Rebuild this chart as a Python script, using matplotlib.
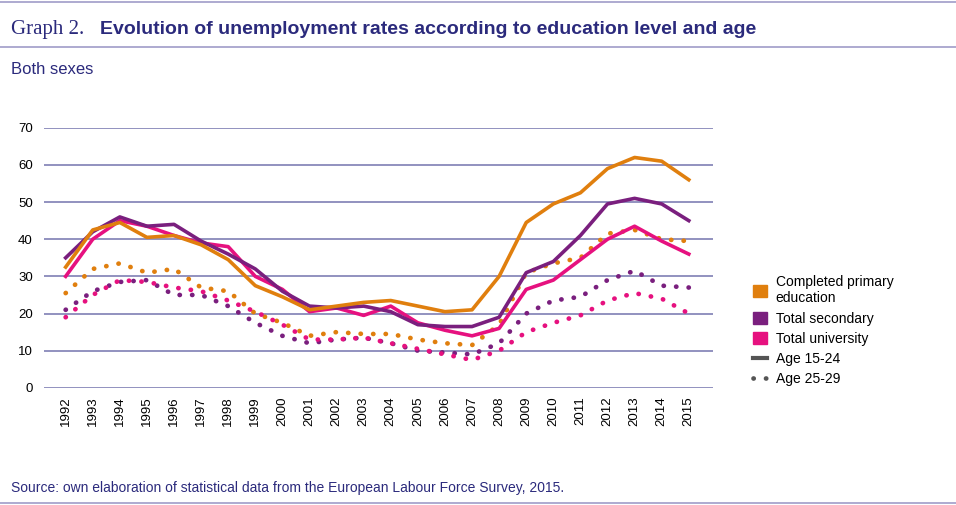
import matplotlib.pyplot as plt
from matplotlib.lines import Line2D
from matplotlib.patches import Patch

years = list(range(1992, 2016))
primary_1524 = [32.5, 42.5, 44.5, 40.5, 41, 38.5, 34.5, 27.5, 24.5, 21, 22, 23, 23.5, 22, 20.5, 21, 30, 44.5, 49.5, 52.5, 59, 62, 61, 56]
secondary_1524 = [35, 42, 46, 43.5, 44, 39.5, 36, 32, 26, 22, 21.5, 22, 20.5, 17, 16.5, 16.5, 19, 31, 34, 41, 49.5, 51, 49.5, 45]
university_1524 = [30, 40, 45, 43.5, 41, 39, 38, 30, 26.5, 20.5, 21.5, 19.5, 22, 17.5, 15.5, 14, 16, 26.5, 29, 34.5, 40, 43.5, 39.5, 36]
primary_2529 = [25.5, 32, 33.5, 31, 32, 27, 26, 20, 17.5, 14, 15, 14.5, 14.5, 13, 12, 11.5, 17, 31, 33.5, 35, 41.5, 42.5, 40, 39.5]
secondary_2529 = [21, 26, 28.5, 29, 25, 25, 22, 17.5, 14, 12, 13, 13.5, 12, 10, 9.5, 9, 12, 20, 23.5, 24.5, 29, 31.5, 27.5, 27]
university_2529 = [19, 25, 29, 28.5, 27, 26, 23.5, 20.5, 17, 13, 13, 13.5, 12, 10.5, 9, 7.5, 10, 15, 17.5, 19.5, 23.5, 25.5, 24, 20]

ORANGE = '#E07F0E'
PURPLE = '#7A1F7E'
PINK = '#E6117F'
NAVY = '#2B2A7C'
GRID = '#7474AE'
DOTS = (0, (0.05, 2.6))

plt.rcParams['font.family'] = ['Liberation Sans', 'DejaVu Sans']
fig = plt.figure(figsize=(9.56, 5.05), dpi=100)

# header
fig.add_artist(Line2D([0.0, 1.0], [0.997, 0.997], color='#A09CC8', lw=1.2))
fig.text(0.012, 0.942, 'Graph 2.', fontsize=15, color=NAVY, family='Liberation Serif', va='center')
fig.text(0.105, 0.942, 'Evolution of unemployment rates according to education level and age',
         fontsize=14, color=NAVY, weight='bold', va='center')
fig.add_artist(Line2D([0.0, 1.0], [0.907, 0.907], color='#A09CC8', lw=1.2))
fig.text(0.012, 0.862, 'Both sexes', fontsize=12, color=NAVY, va='center')
fig.text(0.012, 0.034, 'Source: own elaboration of statistical data from the European Labour Force Survey, 2015.',
         fontsize=10, color=NAVY, va='center')
fig.add_artist(Line2D([0.0, 1.0], [0.003, 0.003], color='#A09CC8', lw=1.2))

ax = fig.add_axes([0.046, 0.232, 0.7, 0.515])
for v in range(0, 80, 10):
    ax.axhline(v, color=GRID, lw=1.1, zorder=0)

ax.plot(years, primary_2529, ls=DOTS, lw=3.4, color=ORANGE, dash_capstyle='round')
ax.plot(years, secondary_2529, ls=DOTS, lw=3.4, color=PURPLE, dash_capstyle='round')
ax.plot(years, university_2529, ls=DOTS, lw=3.4, color=PINK, dash_capstyle='round')
ax.plot(years, university_1524, lw=2.6, color=PINK)
ax.plot(years, secondary_1524, lw=2.6, color=PURPLE)
ax.plot(years, primary_1524, lw=2.6, color=ORANGE)

ax.set_xlim(1991.2, 2015.9)
ax.set_ylim(0, 70)
ax.set_yticks(range(0, 80, 10))
ax.set_xticks(years)
ax.set_xticklabels([str(y) for y in years], rotation=90, fontsize=9.5)
ax.tick_params(axis='y', labelsize=9.5, length=0, pad=8)
ax.tick_params(axis='x', length=0, pad=6)
for s in ax.spines.values():
    s.set_visible(False)

handles = [Patch(color=ORANGE, label='Completed primary\neducation'),
           Patch(color=PURPLE, label='Total secondary'),
           Patch(color=PINK, label='Total university'),
           Line2D([], [], color='#555555', lw=3, label='Age 15-24'),
           Line2D([], [], color='#555555', lw=3.4, ls=DOTS, dash_capstyle='round', label='Age 25-29')]
fig.legend(handles=handles, loc='upper left', bbox_to_anchor=(0.775, 0.48), frameon=False,
           fontsize=10, handlelength=1.0, handleheight=1.0, labelspacing=0.45, handletextpad=0.6)

fig.savefig('out.png', dpi=100)
